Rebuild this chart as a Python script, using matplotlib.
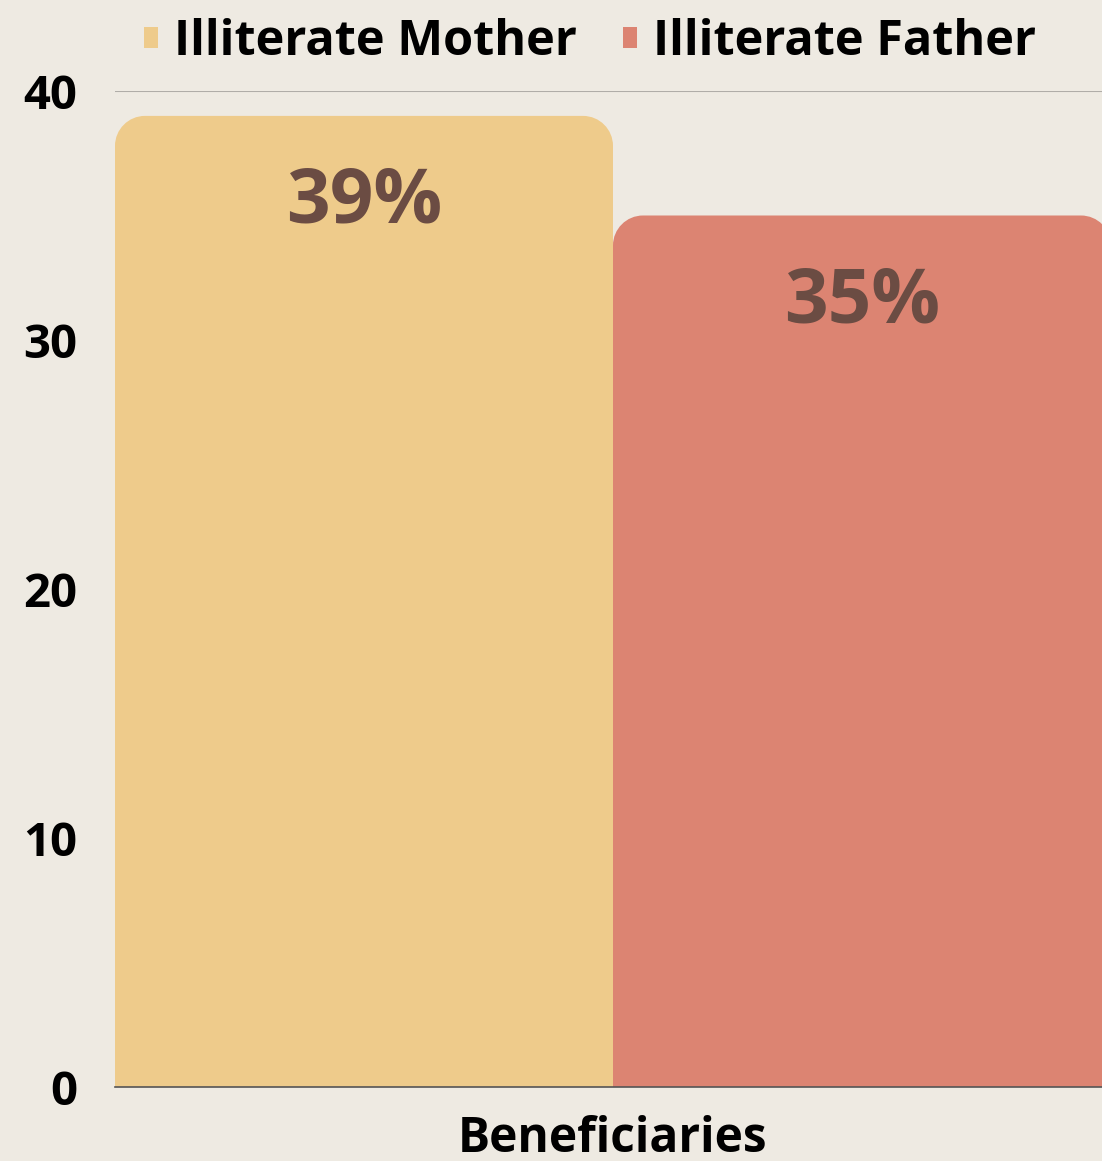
import matplotlib.pyplot as plt
from matplotlib.path import Path
from matplotlib.patches import PathPatch, Patch

# values
series = ['Illiterate Mother', 'Illiterate Father']
values = [39, 35]
labels = ['39%', '35%']
colors = ['#EECB8B', '#DC8472']
yticks = [0, 10, 20, 30, 40]
category = 'Beneficiaries'

plt.rcParams['font.family'] = ['Open Sans', 'DejaVu Sans']
plt.rcParams['font.weight'] = 'bold'

bg = '#EEEAE2'
fig = plt.figure(figsize=(11.02, 11.61), dpi=100, facecolor=bg)
ax = fig.add_axes([115 / 1102, 1 - 1087 / 1161, 996 / 1102, (1087 - 91) / 1161])
ax.set_facecolor('none')

x = list(range(len(values)))
bars = ax.bar(x, values, width=1.0, color=colors, zorder=2)
ax.set_xlim(-0.5, len(values) - 0.5)
ax.set_ylim(0, 40)


def rounded_top(rect, rx, ry):
    x0, y0 = rect.get_x(), rect.get_y()
    w, h = rect.get_width(), rect.get_height()
    x1, y1 = x0 + w, y0 + h
    k = 0.5523
    verts = [(x0, y0), (x0, y1 - ry),
             (x0, y1 - ry + k * ry), (x0 + rx - k * rx, y1), (x0 + rx, y1),
             (x1 - rx, y1),
             (x1 - rx + k * rx, y1), (x1, y1 - ry + k * ry), (x1, y1 - ry),
             (x1, y0), (x0, y0)]
    codes = [Path.MOVETO, Path.LINETO,
             Path.CURVE4, Path.CURVE4, Path.CURVE4,
             Path.LINETO,
             Path.CURVE4, Path.CURVE4, Path.CURVE4,
             Path.LINETO, Path.CLOSEPOLY]
    return Path(verts, codes)


# corner radius ~30 px converted to data units
rx = 30 / 498
ry = 30 / 24.9
for rect, c in zip(bars, colors):
    p = PathPatch(rounded_top(rect, rx, ry), facecolor=c, edgecolor='none', zorder=2)
    ax.add_patch(p)
    rect.set_visible(False)

for xi, v, lab in zip(x, values, labels):
    ax.text(xi, v - 3.5, lab, ha='center', va='center', fontsize=55,
            fontweight='bold', color='#6B4C43', zorder=3)

ax.set_yticks(yticks)
ax.set_yticklabels([str(t) for t in yticks], fontsize=34, fontweight='bold')
ax.tick_params(axis='y', length=0, pad=27)
ax.set_xticks([0.5])
ax.set_xticklabels([category], fontsize=34.5, fontweight='bold')
ax.tick_params(axis='x', length=0, pad=20)
ax.yaxis.grid(True, color='#B0ADA8', linewidth=1.5, zorder=0)
ax.set_axisbelow(True)
for s in ['top', 'right', 'left']:
    ax.spines[s].set_visible(False)
ax.spines['bottom'].set_color('#555555')
ax.spines['bottom'].set_linewidth(1.2)
ax.spines['bottom'].set_zorder(4)

handles = [Patch(facecolor=c, edgecolor='none') for c in colors]
fig.legend(handles, series, loc='upper center', bbox_to_anchor=(590 / 1102, 1.022),
           ncol=2, frameon=False, prop={'weight': 'bold', 'size': 35},
           handlelength=0.29, handleheight=0.3, handletextpad=0.33, columnspacing=0.93)

fig.savefig('out.png', dpi=100, facecolor=bg)
